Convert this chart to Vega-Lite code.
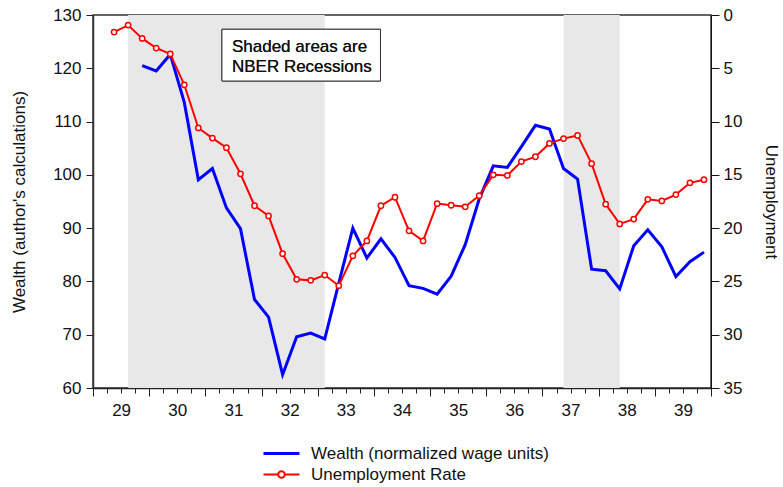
{
  "$schema": "https://vega.github.io/schema/vega-lite/v6.json",
  "width": 618,
  "height": 373,
  "autosize": {"type": "none"},
  "padding": {"left": 93, "top": 15, "right": 72, "bottom": 99},
  "datasets": {
    "rec": [
      {"start": 1929.625, "end": 1933.125},
      {"start": 1937.375, "end": 1938.375}
    ],
    "wealth": [
      {"t": 1929.875, "value": 120.5, "series": "Wealth (normalized wage units)"},
      {"t": 1930.125, "value": 119.5, "series": "Wealth (normalized wage units)"},
      {"t": 1930.375, "value": 122.6, "series": "Wealth (normalized wage units)"},
      {"t": 1930.625, "value": 113.6, "series": "Wealth (normalized wage units)"},
      {"t": 1930.875, "value": 99.1, "series": "Wealth (normalized wage units)"},
      {"t": 1931.125, "value": 101.2, "series": "Wealth (normalized wage units)"},
      {"t": 1931.375, "value": 93.8, "series": "Wealth (normalized wage units)"},
      {"t": 1931.625, "value": 89.9, "series": "Wealth (normalized wage units)"},
      {"t": 1931.875, "value": 76.6, "series": "Wealth (normalized wage units)"},
      {"t": 1932.125, "value": 73.3, "series": "Wealth (normalized wage units)"},
      {"t": 1932.375, "value": 62.5, "series": "Wealth (normalized wage units)"},
      {"t": 1932.625, "value": 69.6, "series": "Wealth (normalized wage units)"},
      {"t": 1932.875, "value": 70.3, "series": "Wealth (normalized wage units)"},
      {"t": 1933.125, "value": 69.2, "series": "Wealth (normalized wage units)"},
      {"t": 1933.375, "value": 79.7, "series": "Wealth (normalized wage units)"},
      {"t": 1933.625, "value": 90.0, "series": "Wealth (normalized wage units)"},
      {"t": 1933.875, "value": 84.4, "series": "Wealth (normalized wage units)"},
      {"t": 1934.125, "value": 88.0, "series": "Wealth (normalized wage units)"},
      {"t": 1934.375, "value": 84.5, "series": "Wealth (normalized wage units)"},
      {"t": 1934.625, "value": 79.2, "series": "Wealth (normalized wage units)"},
      {"t": 1934.875, "value": 78.7, "series": "Wealth (normalized wage units)"},
      {"t": 1935.125, "value": 77.6, "series": "Wealth (normalized wage units)"},
      {"t": 1935.375, "value": 81.0, "series": "Wealth (normalized wage units)"},
      {"t": 1935.625, "value": 86.9, "series": "Wealth (normalized wage units)"},
      {"t": 1935.875, "value": 95.5, "series": "Wealth (normalized wage units)"},
      {"t": 1936.125, "value": 101.7, "series": "Wealth (normalized wage units)"},
      {"t": 1936.375, "value": 101.4, "series": "Wealth (normalized wage units)"},
      {"t": 1936.625, "value": 105.3, "series": "Wealth (normalized wage units)"},
      {"t": 1936.875, "value": 109.3, "series": "Wealth (normalized wage units)"},
      {"t": 1937.125, "value": 108.6, "series": "Wealth (normalized wage units)"},
      {"t": 1937.375, "value": 101.2, "series": "Wealth (normalized wage units)"},
      {"t": 1937.625, "value": 99.2, "series": "Wealth (normalized wage units)"},
      {"t": 1937.875, "value": 82.3, "series": "Wealth (normalized wage units)"},
      {"t": 1938.125, "value": 82.0, "series": "Wealth (normalized wage units)"},
      {"t": 1938.375, "value": 78.6, "series": "Wealth (normalized wage units)"},
      {"t": 1938.625, "value": 86.7, "series": "Wealth (normalized wage units)"},
      {"t": 1938.875, "value": 89.7, "series": "Wealth (normalized wage units)"},
      {"t": 1939.125, "value": 86.5, "series": "Wealth (normalized wage units)"},
      {"t": 1939.375, "value": 80.9, "series": "Wealth (normalized wage units)"},
      {"t": 1939.625, "value": 83.7, "series": "Wealth (normalized wage units)"},
      {"t": 1939.875, "value": 85.5, "series": "Wealth (normalized wage units)"}
    ],
    "unemp": [
      {"t": 1929.375, "rate": 1.6},
      {"t": 1929.625, "rate": 0.95},
      {"t": 1929.875, "rate": 2.2},
      {"t": 1930.125, "rate": 3.1},
      {"t": 1930.375, "rate": 3.65},
      {"t": 1930.625, "rate": 6.55},
      {"t": 1930.875, "rate": 10.6},
      {"t": 1931.125, "rate": 11.55},
      {"t": 1931.375, "rate": 12.45},
      {"t": 1931.625, "rate": 14.9},
      {"t": 1931.875, "rate": 17.9},
      {"t": 1932.125, "rate": 18.85},
      {"t": 1932.375, "rate": 22.4},
      {"t": 1932.625, "rate": 24.8},
      {"t": 1932.875, "rate": 24.9},
      {"t": 1933.125, "rate": 24.4},
      {"t": 1933.375, "rate": 25.4},
      {"t": 1933.625, "rate": 22.6},
      {"t": 1933.875, "rate": 21.2},
      {"t": 1934.125, "rate": 17.9},
      {"t": 1934.375, "rate": 17.1},
      {"t": 1934.625, "rate": 20.25},
      {"t": 1934.875, "rate": 21.2},
      {"t": 1935.125, "rate": 17.7},
      {"t": 1935.375, "rate": 17.85},
      {"t": 1935.625, "rate": 18.0},
      {"t": 1935.875, "rate": 16.95},
      {"t": 1936.125, "rate": 15.0},
      {"t": 1936.375, "rate": 15.05},
      {"t": 1936.625, "rate": 13.75},
      {"t": 1936.875, "rate": 13.3},
      {"t": 1937.125, "rate": 12.05},
      {"t": 1937.375, "rate": 11.6},
      {"t": 1937.625, "rate": 11.3},
      {"t": 1937.875, "rate": 13.95},
      {"t": 1938.125, "rate": 17.75},
      {"t": 1938.375, "rate": 19.6},
      {"t": 1938.625, "rate": 19.15},
      {"t": 1938.875, "rate": 17.3},
      {"t": 1939.125, "rate": 17.45},
      {"t": 1939.375, "rate": 16.85},
      {"t": 1939.625, "rate": 15.75},
      {"t": 1939.875, "rate": 15.45}
    ]
  },
  "layer": [
    {
      "data": {"name": "rec"},
      "mark": {"type": "rect", "fill": "#e8e8e8"},
      "encoding": {
        "x": {"field": "start", "type": "quantitative",
          "scale": {"domain": [1929, 1940], "nice": false, "zero": false},
          "axis": {"orient": "bottom", "title": null, "labels": false, "domain": true, "domainColor": "#222", "domainWidth": 1.5,
            "ticks": true, "tickSize": 5, "tickColor": "#222", "tickWidth": 1,
            "values": [1929, 1929.25, 1929.5, 1929.75, 1930, 1930.25, 1930.5, 1930.75, 1931, 1931.25, 1931.5, 1931.75, 1932, 1932.25, 1932.5, 1932.75, 1933, 1933.25, 1933.5, 1933.75, 1934, 1934.25, 1934.5, 1934.75, 1935, 1935.25, 1935.5, 1935.75, 1936, 1936.25, 1936.5, 1936.75, 1937, 1937.25, 1937.5, 1937.75, 1938, 1938.25, 1938.5, 1938.75, 1939, 1939.25, 1939.5, 1939.75, 1940]}},
        "x2": {"field": "end"}
      }
    },
    {
      "data": {"name": "rec"},
      "mark": {"type": "rect", "fill": "white", "stroke": "#333", "strokeWidth": 1},
      "encoding": {
        "x": {"datum": 1931.295, "type": "quantitative", "scale": {"domain": [1929, 1940], "nice": false, "zero": false}, "axis": null},
        "x2": {"datum": 1934.117},
        "y": {"datum": 127.32, "type": "quantitative", "scale": {"domain": [60, 130], "nice": false, "zero": false}, "axis": null},
        "y2": {"datum": 117.61}
      }
    },
    {
      "data": {"name": "rec"},
      "mark": {"type": "text", "text": "Shaded areas are", "align": "left", "baseline": "alphabetic", "font": "Liberation Sans", "fontSize": 17, "color": "#111"},
      "encoding": {
        "x": {"datum": 1931.473, "type": "quantitative", "scale": {"domain": [1929, 1940], "nice": false, "zero": false}, "axis": null},
        "y": {"datum": 123.0, "type": "quantitative", "scale": {"domain": [60, 130], "nice": false, "zero": false}, "axis": null}
      }
    },
    {
      "data": {"name": "rec"},
      "mark": {"type": "text", "text": "NBER Recessions", "align": "left", "baseline": "alphabetic", "font": "Liberation Sans", "fontSize": 17, "color": "#111"},
      "encoding": {
        "x": {"datum": 1931.473, "type": "quantitative", "scale": {"domain": [1929, 1940], "nice": false, "zero": false}, "axis": null},
        "y": {"datum": 119.36, "type": "quantitative", "scale": {"domain": [60, 130], "nice": false, "zero": false}, "axis": null}
      }
    },
    {
      "data": {"name": "wealth"},
      "mark": {"type": "line", "strokeWidth": 3},
      "encoding": {
        "x": {"field": "t", "type": "quantitative",
          "scale": {"domain": [1929, 1940], "nice": false, "zero": false},
          "axis": {"orient": "bottom", "title": null, "labels": false, "domain": false, "ticks": true, "tickSize": 8, "tickColor": "#222", "tickWidth": 1,
            "values": [1929, 1930, 1931, 1932, 1933, 1934, 1935, 1936, 1937, 1938, 1939, 1940]}},
        "y": {"field": "value", "type": "quantitative",
          "scale": {"domain": [60, 130], "nice": false, "zero": false},
          "axis": {"orient": "left", "title": "Wealth (author's calculations)", "values": [60, 70, 80, 90, 100, 110, 120, 130],
            "tickSize": 7, "tickColor": "#222", "domainColor": "#333", "domainWidth": 1.5, "labelPadding": 5, "titlePadding": 24}},
        "color": {"field": "series", "type": "nominal",
          "scale": {"domain": ["Wealth (normalized wage units)", "Unemployment Rate"], "range": ["#0000ff", "#ff0000"]},
          "legend": {
            "orient": "none", "legendX": 180, "legendY": 430, "title": null, "padding": 0,
            "symbolSize": 144, "labelOffset": 21, "labelFontSize": 17, "labelFont": "Liberation Sans", "labelColor": "#111",
            "labelLimit": 0, "rowPadding": 3, "symbolType": "stroke",
            "encode": {"symbols": {"update": {
              "shape": {"signal": "datum.value === 'Unemployment Rate' ? 'M-3,0L-0.6,0M0.6,0L3,0M0.55,0A0.55,0.55,0,1,1,-0.55,0A0.55,0.55,0,1,1,0.55,0' : 'M-3,0L3,0'"},
              "stroke": {"signal": "datum.value === 'Unemployment Rate' ? '#ff0000' : '#0000ff'"},
              "strokeWidth": {"signal": "datum.value === 'Unemployment Rate' ? 2 : 3"},
              "fill": {"value": "white"},
              "fillOpacity": {"value": 1},
              "opacity": {"value": 1}
            }}}
          }}
      }
    },
    {
      "data": {"name": "unemp"},
      "mark": {"type": "line", "color": "#ff0000", "strokeWidth": 2,
        "point": {"filled": false, "fill": "white", "stroke": "#ff0000", "strokeWidth": 1.5, "size": 28, "opacity": 1}},
      "encoding": {
        "x": {"field": "t", "type": "quantitative",
          "scale": {"domain": [1929, 1940], "nice": false, "zero": false},
          "axis": {"orient": "bottom", "title": null, "domain": false, "ticks": false, "labelPadding": 14,
            "values": [1929.5, 1930.5, 1931.5, 1932.5, 1933.5, 1934.5, 1935.5, 1936.5, 1937.5, 1938.5, 1939.5],
            "labelExpr": "substring(toString(floor(datum.value)), 2)"}},
        "y": {"field": "rate", "type": "quantitative",
          "scale": {"domain": [0, 35], "reverse": true, "nice": false, "zero": false},
          "axis": {"orient": "right", "title": "Unemployment", "values": [0, 5, 10, 15, 20, 25, 30, 35],
            "tickSize": 8, "tickColor": "#111", "domainColor": "#111", "domainWidth": 1, "labelPadding": 4, "titlePadding": 20}}
      }
    }
  ],
  "resolve": {"scale": {"y": "independent"}, "axis": {"x": "independent", "y": "independent"}},
  "config": {
    "view": {"stroke": "#333", "strokeWidth": 1.5},
    "axis": {"grid": false, "labelFont": "Liberation Sans", "titleFont": "Liberation Sans", "labelFontSize": 17, "titleFontSize": 17,
      "titleFontWeight": "normal", "labelColor": "#111", "titleColor": "#111", "labelFlush": false, "labelOverlap": false}
  }
}
